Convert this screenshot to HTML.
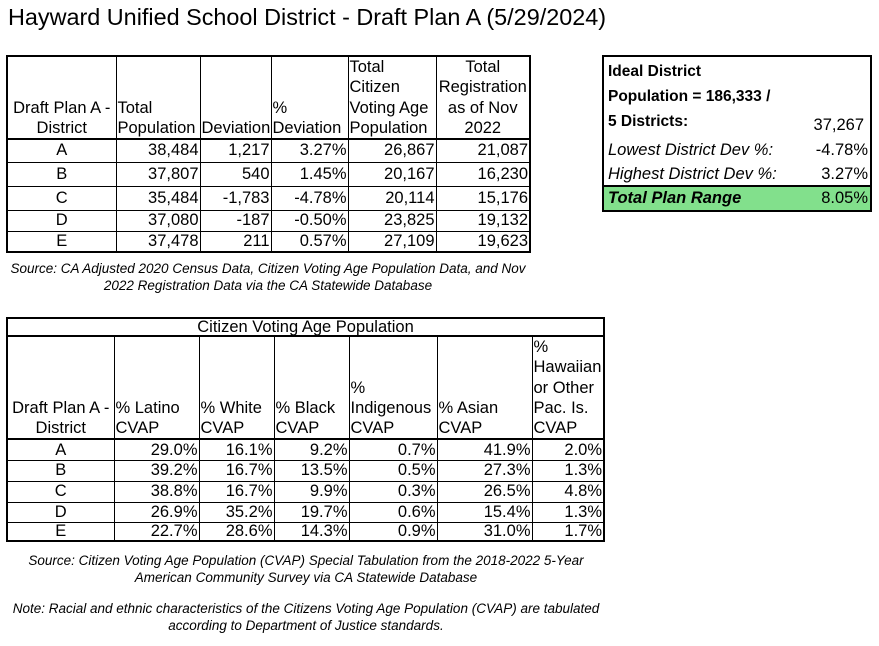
<!DOCTYPE html>
<html><head><meta charset="utf-8"><style>
body{margin:0;width:879px;height:646px;background:#fff;position:relative;overflow:hidden;font-family:"Liberation Sans",Arial,sans-serif;color:#000}
.abs{position:absolute}
table{border-collapse:collapse;position:absolute;font-size:16.5px;border:2px solid #000;table-layout:fixed}
td{border:1px solid #000;padding:0 1px;line-height:17px;white-space:nowrap;overflow:visible}
tr.h td{vertical-align:bottom;border-bottom:2px solid #000;line-height:20.3px}
td.n{text-align:right}
td.c{text-align:center}
.src{position:absolute;font-size:13.5px;font-style:italic;text-align:center;line-height:17px;white-space:nowrap}
</style></head><body>
<div class="abs" style="left:8px;top:4px;font-size:23.4px;white-space:nowrap">Hayward Unified School District - Draft Plan A (5/29/2024)</div>

<table style="left:6px;top:55px;width:523px">
<colgroup><col style="width:109px"><col style="width:84px"><col style="width:71px"><col style="width:77px"><col style="width:88px"><col style="width:94px"></colgroup>
<tr class="h" style="height:81px"><td class="c">Draft Plan A -<br>District</td><td>Total<br>Population</td><td>Deviation</td><td>%<br>Deviation</td><td>Total<br>Citizen<br>Voting Age<br>Population</td><td class="c">Total<br>Registration<br>as of Nov<br>2022</td></tr>
<tr style="height:23px"><td class="c">A</td><td class="n">38,484</td><td class="n">1,217</td><td class="n">3.27%</td><td class="n">26,867</td><td class="n">21,087</td></tr>
<tr style="height:24px"><td class="c">B</td><td class="n">37,807</td><td class="n">540</td><td class="n">1.45%</td><td class="n">20,167</td><td class="n">16,230</td></tr>
<tr style="height:24px"><td class="c">C</td><td class="n">35,484</td><td class="n">-1,783</td><td class="n">-4.78%</td><td class="n">20,114</td><td class="n">15,176</td></tr>
<tr style="height:21px"><td class="c">D</td><td class="n">37,080</td><td class="n">-187</td><td class="n">-0.50%</td><td class="n">23,825</td><td class="n">19,132</td></tr>
<tr style="height:21px"><td class="c">E</td><td class="n">37,478</td><td class="n">211</td><td class="n">0.57%</td><td class="n">27,109</td><td class="n">19,623</td></tr>
</table>
<div class="src" style="left:0;width:536px;top:260px">Source: CA Adjusted 2020 Census Data, Citizen Voting Age Population Data, and Nov<br>2022 Registration Data via the CA Statewide Database</div>

<div class="abs" style="left:602px;top:55px;width:266px;height:153px;border:2px solid #000;font-size:16.5px;overflow:hidden">
<div class="abs" style="left:4px;top:6px;font-weight:bold;font-size:15.5px;white-space:nowrap">Ideal District</div>
<div class="abs" style="left:4px;top:31px;font-weight:bold;font-size:15.5px;white-space:nowrap">Population = 186,333 /</div>
<div class="abs" style="left:4px;top:56px;font-weight:bold;font-size:15.5px;white-space:nowrap">5 Districts:</div>
<div class="abs" style="right:6px;top:59px">37,267</div>
<div class="abs" style="left:4px;top:84px;font-style:italic;white-space:nowrap">Lowest District Dev %:</div>
<div class="abs" style="right:2px;top:84px">-4.78%</div>
<div class="abs" style="left:4px;top:108px;font-style:italic;white-space:nowrap">Highest District Dev %:</div>
<div class="abs" style="right:2px;top:108px">3.27%</div>
<div class="abs" style="left:0;right:0;top:128px;height:25px;background:#82e08c;border-top:2px solid #000;box-sizing:border-box">
<div class="abs" style="left:4px;top:2px;font-weight:bold;font-style:italic;white-space:nowrap">Total Plan Range</div>
<div class="abs" style="right:2px;top:2px">8.05%</div></div>
</div>

<table style="left:6px;top:317px;width:597px">
<colgroup><col style="width:107px"><col style="width:85px"><col style="width:75px"><col style="width:75px"><col style="width:88px"><col style="width:95px"><col style="width:72px"></colgroup>
<tr style="height:18px"><td colspan="7" class="c" style="border-bottom:2px solid #000;line-height:16px">Citizen Voting Age Population</td></tr>
<tr class="h" style="height:102px"><td class="c">Draft Plan A -<br>District</td><td>% Latino<br>CVAP</td><td>% White<br>CVAP</td><td>% Black<br>CVAP</td><td>%<br>Indigenous<br>CVAP</td><td>% Asian<br>CVAP</td><td>%<br>Hawaiian<br>or Other<br>Pac. Is.<br>CVAP</td></tr>
<tr style="height:21px"><td class="c">A</td><td class="n">29.0%</td><td class="n">16.1%</td><td class="n">9.2%</td><td class="n">0.7%</td><td class="n">41.9%</td><td class="n">2.0%</td></tr>
<tr style="height:21px"><td class="c">B</td><td class="n">39.2%</td><td class="n">16.7%</td><td class="n">13.5%</td><td class="n">0.5%</td><td class="n">27.3%</td><td class="n">1.3%</td></tr>
<tr style="height:21px"><td class="c">C</td><td class="n">38.8%</td><td class="n">16.7%</td><td class="n">9.9%</td><td class="n">0.3%</td><td class="n">26.5%</td><td class="n">4.8%</td></tr>
<tr style="height:20px"><td class="c">D</td><td class="n">26.9%</td><td class="n">35.2%</td><td class="n">19.7%</td><td class="n">0.6%</td><td class="n">15.4%</td><td class="n">1.3%</td></tr>
<tr style="height:17px"><td class="c" style="line-height:15px">E</td><td class="n" style="line-height:15px">22.7%</td><td class="n">28.6%</td><td class="n">14.3%</td><td class="n">0.9%</td><td class="n">31.0%</td><td class="n">1.7%</td></tr>
</table>
<div class="src" style="left:0;width:612px;top:552px">Source: Citizen Voting Age Population (CVAP) Special Tabulation from the 2018-2022 5-Year<br>American Community Survey via CA Statewide Database</div>
<div class="src" style="left:0;width:612px;top:600px">Note: Racial and ethnic characteristics of the Citizens Voting Age Population (CVAP) are tabulated<br>according to Department of Justice standards.</div>
</body></html>
